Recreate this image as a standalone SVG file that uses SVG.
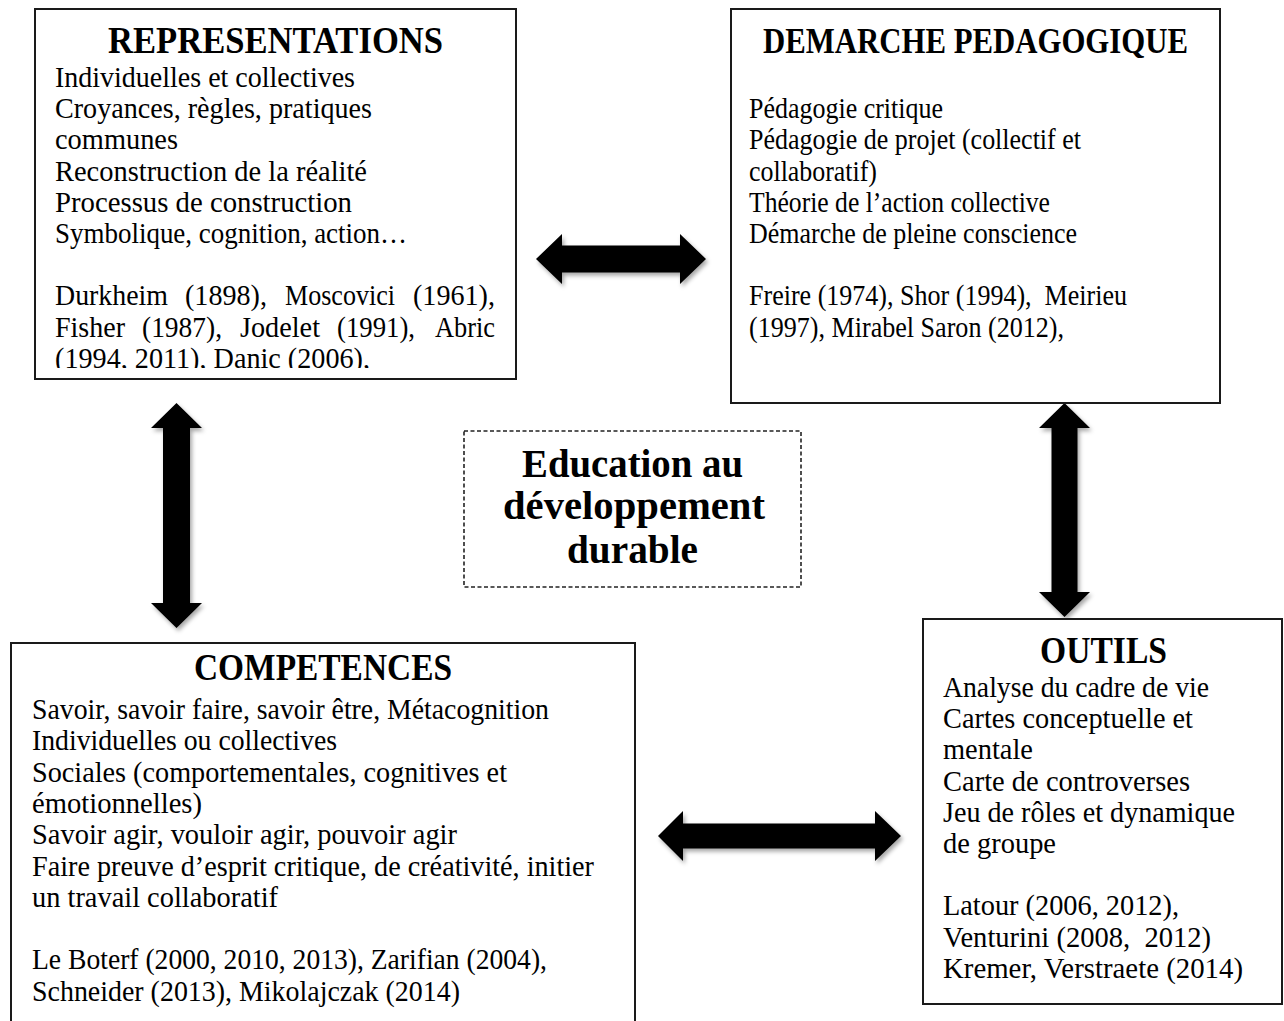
<svg xmlns="http://www.w3.org/2000/svg" width="1284" height="1021" viewBox="0 0 1284 1021">
<style>
.box{fill:#fff;stroke:#1a1a1a;stroke-width:2}
.dash{fill:#fff;stroke:#222;stroke-width:1.6;stroke-dasharray:4 2.5}
.t{font-family:"Liberation Serif","Times New Roman",serif;font-size:28.5px;fill:#000}
.h{font-family:"Liberation Serif","Times New Roman",serif;font-size:38px;font-weight:bold;fill:#000}
.c{font-family:"Liberation Serif","Times New Roman",serif;font-size:41px;font-weight:bold;fill:#000}
.arrow{fill:#000;filter:url(#sh)}
</style>
<defs>
<filter id="sh" x="-20%" y="-20%" width="140%" height="140%">
<feDropShadow dx="2" dy="3" stdDeviation="2" flood-color="#000" flood-opacity="0.35"/>
</filter>
<clipPath id="clip1"><rect x="35" y="9" width="481" height="359"/></clipPath>
</defs>
<rect width="1284" height="1021" fill="#fff"/>

<g id="connectors">
<polygon class="arrow" points="536,259 562,234 562,245.5 680,245.5 680,234 706,259 680,284 680,272.5 562,272.5 562,284"/>
<polygon class="arrow" points="658,836 683,811 683,823.5 875,823.5 875,811 901,836 875,861 875,848.5 683,848.5 683,861"/>
<polygon class="arrow" points="176.5,403 202,428 190,428 190,603 202,603 176.5,628 151,603 163,603 163,428 151,428"/>
<polygon class="arrow" points="1064.5,403 1090,428 1077.5,428 1077.5,592 1090,592 1064.5,617 1039,592 1051.5,592 1051.5,428 1039,428"/>
</g>

<g id="representations">
<rect class="box" x="35" y="9" width="481" height="370"/>
<text class="h" x="108" y="53" textLength="335" lengthAdjust="spacingAndGlyphs">REPRESENTATIONS</text>
<g clip-path="url(#clip1)">
<text class="t" x="55" y="87" textLength="300" lengthAdjust="spacingAndGlyphs">Individuelles et collectives</text>
<text class="t" x="55" y="118.2" textLength="317" lengthAdjust="spacingAndGlyphs">Croyances, règles, pratiques</text>
<text class="t" x="55" y="149.4" textLength="123" lengthAdjust="spacingAndGlyphs">communes</text>
<text class="t" x="55" y="180.6" textLength="312" lengthAdjust="spacingAndGlyphs">Reconstruction de la réalité</text>
<text class="t" x="55" y="211.8" textLength="297" lengthAdjust="spacingAndGlyphs">Processus de construction</text>
<text class="t" x="55" y="243" textLength="352" lengthAdjust="spacingAndGlyphs">Symbolique, cognition, action…</text>
<text class="t" x="55" y="305.4" textLength="113" lengthAdjust="spacingAndGlyphs">Durkheim</text>
<text class="t" x="185" y="305.4" textLength="82" lengthAdjust="spacingAndGlyphs">(1898),</text>
<text class="t" x="285" y="305.4" textLength="110" lengthAdjust="spacingAndGlyphs">Moscovici</text>
<text class="t" x="413" y="305.4" textLength="82" lengthAdjust="spacingAndGlyphs">(1961),</text>
<text class="t" x="55" y="336.6" textLength="70" lengthAdjust="spacingAndGlyphs">Fisher</text>
<text class="t" x="142" y="336.6" textLength="80" lengthAdjust="spacingAndGlyphs">(1987),</text>
<text class="t" x="240" y="336.6" textLength="80" lengthAdjust="spacingAndGlyphs">Jodelet</text>
<text class="t" x="337" y="336.6" textLength="78" lengthAdjust="spacingAndGlyphs">(1991),</text>
<text class="t" x="435" y="336.6" textLength="60" lengthAdjust="spacingAndGlyphs">Abric</text>
<text class="t" x="55" y="367.8" textLength="315" lengthAdjust="spacingAndGlyphs">(1994, 2011), Danic (2006),</text>
</g>
</g>

<g id="demarche">
<rect class="box" x="731" y="9" width="489" height="394"/>
<text class="h" x="763" y="53" style="font-size:35px" textLength="425" lengthAdjust="spacingAndGlyphs">DEMARCHE PEDAGOGIQUE</text>
<text class="t" x="749" y="118.2" textLength="194" lengthAdjust="spacingAndGlyphs">Pédagogie critique</text>
<text class="t" x="749" y="149.4" textLength="332" lengthAdjust="spacingAndGlyphs">Pédagogie de projet (collectif et</text>
<text class="t" x="749" y="180.6" textLength="128" lengthAdjust="spacingAndGlyphs">collaboratif)</text>
<text class="t" x="749" y="211.8" textLength="301" lengthAdjust="spacingAndGlyphs">Théorie de l’action collective</text>
<text class="t" x="749" y="243" textLength="328" lengthAdjust="spacingAndGlyphs">Démarche de pleine conscience</text>
<text class="t" x="749" y="305.4" textLength="378" lengthAdjust="spacingAndGlyphs" xml:space="preserve">Freire (1974), Shor (1994),  Meirieu</text>
<text class="t" x="749" y="336.6" textLength="315" lengthAdjust="spacingAndGlyphs">(1997), Mirabel Saron (2012),</text>
</g>

<g id="education">
<rect class="dash" x="464" y="431" width="337" height="156"/>
<text class="c" x="522" y="477" textLength="221" lengthAdjust="spacingAndGlyphs">Education au</text>
<text class="c" x="503" y="519" textLength="262" lengthAdjust="spacingAndGlyphs">développement</text>
<text class="c" x="567" y="563" textLength="131" lengthAdjust="spacingAndGlyphs">durable</text>
</g>

<g id="competences">
<rect class="box" x="11" y="643" width="624" height="400"/>
<text class="h" x="194" y="680" textLength="258" lengthAdjust="spacingAndGlyphs">COMPETENCES</text>
<text class="t" x="32" y="719" textLength="517" lengthAdjust="spacingAndGlyphs">Savoir, savoir faire, savoir être, Métacognition</text>
<text class="t" x="32" y="750.3" textLength="305" lengthAdjust="spacingAndGlyphs">Individuelles ou collectives</text>
<text class="t" x="32" y="781.6" textLength="475" lengthAdjust="spacingAndGlyphs">Sociales (comportementales, cognitives et</text>
<text class="t" x="32" y="812.9" textLength="170" lengthAdjust="spacingAndGlyphs">émotionnelles)</text>
<text class="t" x="32" y="844.2" textLength="425" lengthAdjust="spacingAndGlyphs">Savoir agir, vouloir agir, pouvoir agir</text>
<text class="t" x="32" y="875.5" textLength="562" lengthAdjust="spacingAndGlyphs">Faire preuve d’esprit critique, de créativité, initier</text>
<text class="t" x="32" y="906.8" textLength="246" lengthAdjust="spacingAndGlyphs">un travail collaboratif</text>
<text class="t" x="32" y="969.4" textLength="515" lengthAdjust="spacingAndGlyphs">Le Boterf (2000, 2010, 2013), Zarifian (2004),</text>
<text class="t" x="32" y="1000.7" textLength="428" lengthAdjust="spacingAndGlyphs">Schneider (2013), Mikolajczak (2014)</text>
</g>

<g id="outils">
<rect class="box" x="923" y="619" width="359" height="385"/>
<text class="h" x="1040" y="663" textLength="127" lengthAdjust="spacingAndGlyphs">OUTILS</text>
<text class="t" x="943" y="697" textLength="266" lengthAdjust="spacingAndGlyphs">Analyse du cadre de vie</text>
<text class="t" x="943" y="728.2" textLength="250" lengthAdjust="spacingAndGlyphs">Cartes conceptuelle et</text>
<text class="t" x="943" y="759.4" textLength="90" lengthAdjust="spacingAndGlyphs">mentale</text>
<text class="t" x="943" y="790.6" textLength="247" lengthAdjust="spacingAndGlyphs">Carte de controverses</text>
<text class="t" x="943" y="821.8" textLength="292" lengthAdjust="spacingAndGlyphs">Jeu de rôles et dynamique</text>
<text class="t" x="943" y="853" textLength="113" lengthAdjust="spacingAndGlyphs">de groupe</text>
<text class="t" x="943" y="915.4" textLength="236" lengthAdjust="spacingAndGlyphs">Latour (2006, 2012),</text>
<text class="t" x="943" y="946.6" textLength="268" lengthAdjust="spacingAndGlyphs" xml:space="preserve">Venturini (2008,  2012)</text>
<text class="t" x="943" y="977.8" textLength="300" lengthAdjust="spacingAndGlyphs">Kremer, Verstraete (2014)</text>
</g>
</svg>
